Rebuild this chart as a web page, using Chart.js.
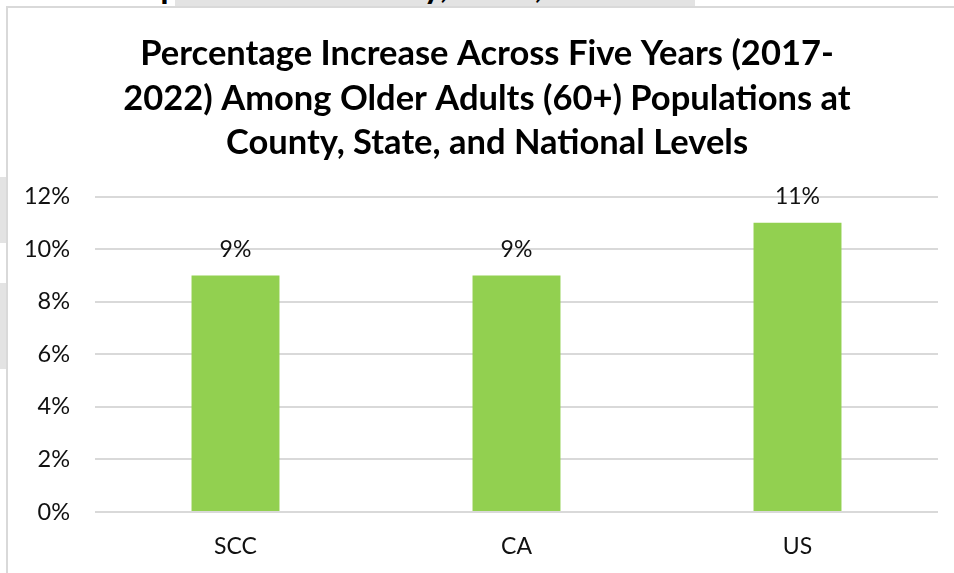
<!DOCTYPE html>
<html>
<head>
<meta charset="utf-8">
<script src="https://cdn.jsdelivr.net/npm/chart.js@4.4.0/dist/chart.umd.min.js"></script>
<style>
  body { margin: 0; background: #fff; width: 954px; height: 573px; overflow: hidden; position: relative; font-family: Lato, sans-serif; }
  .wm { position: absolute; background: #e3e3e3; }
  .frame { position: absolute; left: 6px; top: 6px; width: 960px; height: 580px; border-left: 2px solid #d9d9d9; border-top: 2px solid #d9d9d9; }
  .cut { position: absolute; top: -32px; font: bold 34px Lato, sans-serif; line-height: 34px; color: #000; white-space: nowrap; }
  #chart-wrap { position: absolute; left: 0; top: 0; }
</style>
</head>
<body>
<div class="wm" style="left:175px; top:0; width:520px; height:6px;"></div>
<div class="wm" style="left:0; top:177px; width:6px; height:66px;"></div>
<div class="wm" style="left:0; top:283px; width:6px; height:86px;"></div>
<div class="cut" style="left:0; width:331px; text-align:right;">Population at&nbsp;</div>
<div class="cut" style="left:331px;">County, State, and National Levels</div>
<div class="frame"></div>
<div id="chart-wrap"><canvas id="growth-chart" width="954" height="573"></canvas></div>
<script>
const categories = ['SCC', 'CA', 'US'];
const increasePct = [9, 9, 11];
const yTickValues = [0, 2, 4, 6, 8, 10, 12];
const yTickLabels = ['0%', '2%', '4%', '6%', '8%', '10%', '12%'];
const titleLines = [
    'Percentage Increase Across Five Years (2017-',
    '2022) Among Older Adults (60+) Populations at',
    'County, State, and National Levels'
];

const textColor = '#111';

// labels above the bars, like the excel data labels
const barLabels = {
    id: 'barLabels',
    afterDatasetsDraw(chart) {
        const ctx = chart.ctx;
        const meta = chart.getDatasetMeta(0);
        ctx.save();
        ctx.font = '23px Lato';
        ctx.fillStyle = textColor;
        ctx.textAlign = 'center';
        ctx.textBaseline = 'middle';
        meta.data.forEach((bar, i) => {
            ctx.fillText(increasePct[i] + '%', bar.x, bar.y - 26);
        });
        ctx.restore();
    }
};

// excel centres the title a bit right of the canvas middle
const titleShift = {
    id: 'titleShift',
    afterLayout(chart) {
        if (chart.titleBlock) {
            chart.titleBlock.left = 36;
        }
    }
};

const ctx = document.getElementById('growth-chart').getContext('2d');
new Chart(ctx, {
    type: 'bar',
    data: {
        labels: categories,
        datasets: [{
            data: increasePct,
            backgroundColor: '#92d050',
            borderWidth: 0,
            barPercentage: 0.313,
            categoryPercentage: 1
        }]
    },
    options: {
        responsive: false,
        devicePixelRatio: 1,
        animation: false,
        layout: {
            padding: { left: 0, right: 16, top: 0, bottom: 0 }
        },
        scales: {
            y: {
                min: 0,
                max: 12,
                afterBuildTicks: scale => {
                    scale.ticks = yTickValues.map(v => ({ value: v }));
                },
                afterFit: scale => {
                    scale.width = 95;
                },
                ticks: {
                    padding: 25,
                    color: textColor,
                    font: { family: 'Lato', size: 23.5 },
                    callback: value => yTickLabels[yTickValues.indexOf(value)]
                },
                grid: {
                    color: '#d9d9d9',
                    lineWidth: 2,
                    drawTicks: false
                },
                border: { display: false }
            },
            x: {
                afterFit: scale => {
                    scale.height = 61;
                },
                ticks: {
                    padding: 21,
                    color: textColor,
                    font: { family: 'Lato', size: 23 }
                },
                grid: { display: false, drawTicks: false },
                border: { display: false }
            }
        },
        plugins: {
            legend: { display: false },
            tooltip: { enabled: false },
            title: {
                display: true,
                text: titleLines,
                color: '#000',
                font: { family: 'Lato', size: 34.5, weight: 'bold', lineHeight: 1.29 },
                padding: { top: 32, bottom: 31 }
            }
        }
    },
    plugins: [barLabels, titleShift]
});
</script>
</body>
</html>
